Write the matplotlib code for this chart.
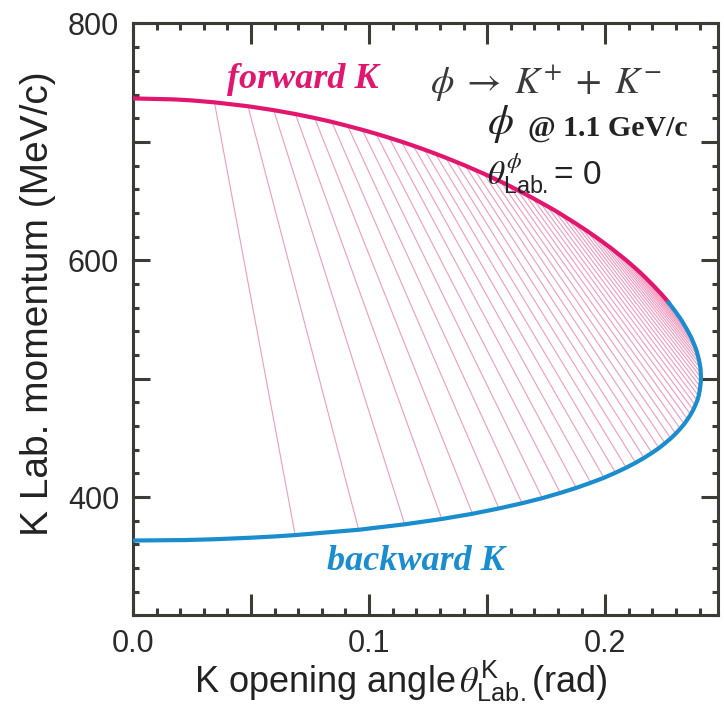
import matplotlib
matplotlib.use("Agg")
import matplotlib.pyplot as plt
from matplotlib.ticker import MultipleLocator, FixedLocator

plt.rcParams['font.family'] = ['Liberation Sans', 'DejaVu Sans']
plt.rcParams['mathtext.fontset'] = 'stix'

# forward K branch
fwd_angle = [0.0, 0.0345, 0.0487, 0.0596, 0.0688, 0.0769, 0.0842, 0.0909, 0.0971, 0.1029,
             0.1085, 0.1137, 0.1187, 0.1234, 0.1280, 0.1324, 0.1366, 0.1407, 0.1446, 0.1485,
             0.1522, 0.1558, 0.1593, 0.1627, 0.1660, 0.1692, 0.1723, 0.1754, 0.1784, 0.1813,
             0.1841, 0.1869, 0.1895, 0.1922, 0.1947, 0.1972, 0.1996, 0.2020, 0.2043, 0.2065,
             0.2087, 0.2108, 0.2128, 0.2148, 0.2167, 0.2185, 0.2203, 0.2220, 0.2237, 0.2253,
             0.2268]
fwd_mom = [736.7, 733.4, 730.1, 726.8, 723.5, 720.2, 716.9, 713.5, 710.2, 706.9,
           703.5, 700.2, 696.8, 693.5, 690.1, 686.7, 683.3, 680.0, 676.6, 673.2,
           669.8, 666.4, 663.0, 659.5, 656.1, 652.7, 649.2, 645.8, 642.4, 638.9,
           635.4, 631.9, 628.5, 625.0, 621.5, 618.0, 614.5, 611.0, 607.4, 603.9,
           600.4, 596.8, 593.3, 589.7, 586.1, 582.5, 578.9, 575.3, 571.7, 568.1,
           564.5]

# backward K branch (blue curve), same order -> partner of each forward K
bwd_angle = [0.0, 0.0687, 0.0956, 0.1151, 0.1308, 0.1438, 0.1550, 0.1648, 0.1734, 0.1810,
             0.1878, 0.1939, 0.1995, 0.2044, 0.2089, 0.2129, 0.2165, 0.2198, 0.2228, 0.2254,
             0.2278, 0.2299, 0.2318, 0.2335, 0.2349, 0.2362, 0.2373, 0.2382, 0.2390, 0.2396,
             0.2400, 0.2403, 0.2405, 0.2406, 0.2405, 0.2404, 0.2401, 0.2397, 0.2392, 0.2387,
             0.2380, 0.2372, 0.2364, 0.2354, 0.2344, 0.2333, 0.2322, 0.2309, 0.2296, 0.2282,
             0.2268]
bwd_mom = [363.3, 367.9, 372.4, 377.0, 381.5, 385.9, 390.4, 394.8, 399.1, 403.5,
           407.8, 412.1, 416.3, 420.6, 424.8, 429.0, 433.1, 437.3, 441.4, 445.5,
           449.6, 453.6, 457.7, 461.7, 465.7, 469.7, 473.6, 477.6, 481.5, 485.4,
           489.3, 493.2, 497.1, 500.9, 504.8, 508.6, 512.4, 516.2, 520.0, 523.8,
           527.5, 531.3, 535.0, 538.7, 542.4, 546.1, 549.8, 553.5, 557.2, 560.8,
           564.5]

# extra curve points near zero angle (no pair line drawn there)
fwd_head_angle = [0.0172, 0.0244]
fwd_head_mom = [735.9, 735.1]
bwd_head_angle = [0.0221, 0.0348, 0.0490, 0.0597]
bwd_head_mom = [363.7, 364.4, 365.6, 366.7]

xtick_pos = [0.0, 0.05, 0.1, 0.15, 0.2]
xtick_labels = ['0.0', '', '0.1', '', '0.2']
ytick_pos = [400, 500, 600, 700, 800]
ytick_labels = ['400', '', '600', '', '800']

pink = '#e3166f'
blue = '#1a8dcf'
axcol = '#3c3c37'

fig = plt.figure(figsize=(7.24, 7.16), dpi=100)
ax = fig.add_axes([0.1837, 0.1404, 0.808, 0.8268])

# K+K- pair lines
for i in range(1, len(fwd_angle) - 1):
    ax.plot([fwd_angle[i], bwd_angle[i]], [fwd_mom[i], bwd_mom[i]],
            color='#f29bbd', lw=0.8, zorder=1)

ax.plot(fwd_angle[:1] + fwd_head_angle + fwd_angle[1:],
        fwd_mom[:1] + fwd_head_mom + fwd_mom[1:], color=pink, lw=3, zorder=3)
ax.plot(bwd_angle[:1] + bwd_head_angle + bwd_angle[1:],
        bwd_mom[:1] + bwd_head_mom + bwd_mom[1:], color=blue, lw=3, zorder=3)

ax.set_xlim(0, 0.2478)
ax.set_ylim(300, 800)
ax.xaxis.set_major_locator(FixedLocator(xtick_pos))
ax.set_xticklabels(xtick_labels)
ax.xaxis.set_minor_locator(MultipleLocator(0.01))
ax.yaxis.set_major_locator(FixedLocator(ytick_pos))
ax.set_yticklabels(ytick_labels)
ax.yaxis.set_minor_locator(MultipleLocator(20))

ax.tick_params(which='both', direction='in', top=True, right=True,
               color=axcol, width=2.2, labelsize=22, labelcolor='#2a2a2a', pad=10)
ax.tick_params(axis='x', which='major', length=15)
ax.tick_params(axis='x', which='minor', length=5)
ax.tick_params(axis='y', which='major', length=12)
ax.tick_params(axis='y', which='minor', length=4)
for s in ax.spines.values():
    s.set_linewidth(2.2)
    s.set_color(axcol)

ax.set_ylabel('K Lab. momentum (MeV/c)', fontsize=28, color='#222222')
ax.yaxis.set_label_coords(-0.132, 0.526)
ax.set_xlabel(r'K opening angle$\,\theta^{\mathregular{K}}_{\mathregular{Lab.}}$(rad)',
              fontsize=26, color='#222222')
ax.xaxis.set_label_coords(0.458, -0.072)

# annotations
ax.text(0.0398, 745.3, 'forward K', color=pink, fontsize=26, family='Liberation Serif',
        weight='bold', style='italic', va='baseline')
ax.text(0.0822, 338.1, 'backward K', color=blue, fontsize=26, family='Liberation Serif',
        weight='bold', style='italic', va='baseline')
ax.text(0.1258, 741.0, r'$\phi\;\rightarrow\;K^{+}\;+\;K^{-}$', color='#3a3a3a',
        fontsize=27, va='baseline')
ax.text(0.150, 706.9, r'$\phi$', color='#222222', fontsize=30, va='baseline')
ax.text(0.1674, 705.5, '@ 1.1 GeV/c', color='#222222', fontsize=21.5,
        family='Liberation Serif', weight='bold', va='baseline')
ax.text(0.150, 663.5, r'$\theta^{\phi}_{\mathregular{Lab.}}$= 0', color='#222222',
        fontsize=24, va='baseline')

fig.savefig('out.png', dpi=100)
